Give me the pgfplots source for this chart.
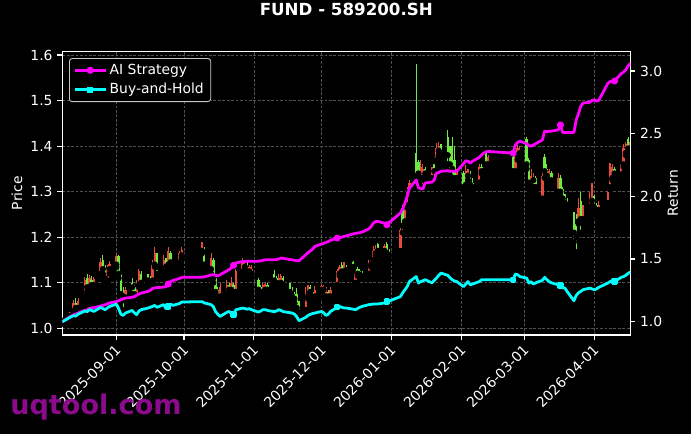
\documentclass[border=0pt]{standalone}
\usepackage{fontspec}
\setmainfont{DejaVu Sans}
\usepackage{pgfplots}
\usepackage{pgfplotstable}
\pgfplotsset{compat=1.18}

\definecolor{cup}{RGB}{230,75,60}
\definecolor{cdown}{RGB}{110,235,65}
\definecolor{gridc}{RGB}{80,80,80}
\definecolor{wm}{RGB}{140,10,140}
\definecolor{legedge}{RGB}{200,200,200}
\definecolor{aicol}{RGB}{255,0,255}
\definecolor{bhcol}{RGB}{0,255,255}

% x = days since 2025-09-01
\pgfplotstableread{
x o h l c
-24 1.015 1.025 1.010 1.020
-21 1.020 1.035 1.018 1.030
-20 1.028 1.040 1.025 1.035
-19 1.038 1.062 1.035 1.055
-17 1.045 1.066 1.042 1.060
-14 1.070 1.112 1.066 1.105
-12 1.090 1.118 1.085 1.110
-10 1.095 1.112 1.090 1.108
-7 1.120 1.155 1.115 1.145
-4 1.105 1.140 1.098 1.130
-3 1.130 1.148 1.120 1.142
0 1.140 1.163 1.134 1.158
4 1.068 1.090 1.060 1.085
9 1.065 1.105 1.050 1.100
10 1.095 1.130 1.090 1.125
16 1.105 1.150 1.100 1.140
17 1.140 1.178 1.135 1.165
21 1.130 1.160 1.120 1.150
23 1.140 1.178 1.135 1.170
28 1.145 1.170 1.140 1.165
29 1.160 1.178 1.155 1.172
38 1.170 1.190 1.165 1.185
42 1.130 1.165 1.120 1.155
46 1.070 1.100 1.065 1.090
49 1.075 1.105 1.068 1.095
51 1.085 1.112 1.080 1.100
53 1.080 1.130 1.078 1.125
56 1.125 1.154 1.122 1.145
57 1.135 1.150 1.125 1.140
59 1.125 1.140 1.118 1.135
60 1.120 1.140 1.115 1.130
65 1.075 1.100 1.070 1.095
66 1.085 1.102 1.080 1.098
72 1.095 1.120 1.090 1.110
73 1.100 1.120 1.092 1.115
84 1.040 1.090 1.035 1.075
85 1.070 1.095 1.065 1.085
88 1.070 1.092 1.065 1.085
91 1.085 1.098 1.082 1.092
92 1.085 1.095 1.070 1.090
93 1.070 1.090 1.066 1.080
95 1.070 1.090 1.066 1.085
98 1.095 1.130 1.090 1.125
99 1.120 1.140 1.115 1.135
101 1.125 1.145 1.120 1.135
106 1.100 1.127 1.098 1.120
112 1.120 1.150 1.118 1.145
113 1.140 1.155 1.135 1.150
114 1.150 1.180 1.145 1.170
115 1.165 1.182 1.160 1.175
119 1.170 1.185 1.168 1.180
126 1.170 1.220 1.165 1.215
128 1.235 1.277 1.230 1.265
129 1.270 1.310 1.265 1.300
130 1.300 1.325 1.290 1.320
135 1.330 1.370 1.325 1.355
136 1.330 1.360 1.310 1.350
140 1.330 1.355 1.320 1.350
142 1.370 1.407 1.365 1.395
143 1.390 1.410 1.380 1.400
151 1.330 1.350 1.320 1.345
155 1.315 1.358 1.310 1.345
156 1.335 1.350 1.325 1.340
161 1.320 1.360 1.315 1.355
163 1.345 1.360 1.340 1.355
165 1.360 1.380 1.355 1.375
177 1.345 1.390 1.340 1.380
178 1.380 1.402 1.370 1.395
179 1.385 1.400 1.375 1.390
184 1.310 1.350 1.300 1.335
185 1.325 1.340 1.310 1.330
189 1.285 1.343 1.277 1.335
192 1.325 1.350 1.320 1.345
196 1.300 1.340 1.292 1.330
205 1.235 1.286 1.230 1.265
207 1.240 1.270 1.235 1.260
210 1.265 1.300 1.255 1.285
211 1.280 1.320 1.270 1.305
214 1.260 1.280 1.255 1.270
218 1.275 1.310 1.270 1.300
219 1.310 1.363 1.305 1.350
220 1.330 1.360 1.325 1.355
224 1.338 1.365 1.335 1.360
225 1.360 1.405 1.355 1.395
226 1.385 1.410 1.380 1.405
228 1.395 1.420 1.390 1.410
}\upcandles

\pgfplotstableread{
x o h l c
-18 1.055 1.066 1.040 1.045
-13 1.110 1.120 1.080 1.090
-11 1.105 1.115 1.090 1.095
-6 1.150 1.160 1.120 1.130
-5 1.130 1.140 1.100 1.110
1 1.158 1.162 1.110 1.120
2 1.120 1.125 1.060 1.075
3 1.078 1.090 1.040 1.070
7 1.100 1.110 1.075 1.090
8 1.090 1.095 1.065 1.075
11 1.120 1.125 1.095 1.100
14 1.115 1.120 1.098 1.105
15 1.110 1.115 1.095 1.100
18 1.160 1.165 1.120 1.135
22 1.150 1.155 1.125 1.135
24 1.165 1.170 1.135 1.145
25 1.145 1.150 1.130 1.140
39 1.175 1.178 1.130 1.140
43 1.150 1.155 1.100 1.110
44 1.110 1.120 1.065 1.080
45 1.085 1.090 1.060 1.070
50 1.095 1.100 1.070 1.085
52 1.095 1.100 1.070 1.078
58 1.140 1.145 1.120 1.125
63 1.105 1.110 1.078 1.085
64 1.090 1.095 1.075 1.080
67 1.095 1.100 1.075 1.085
70 1.120 1.127 1.100 1.105
71 1.110 1.115 1.095 1.100
74 1.110 1.115 1.090 1.095
77 1.095 1.100 1.075 1.080
78 1.085 1.090 1.060 1.070
79 1.075 1.080 1.055 1.065
80 1.075 1.088 1.035 1.045
81 1.050 1.060 1.029 1.035
86 1.090 1.095 1.075 1.080
87 1.080 1.085 1.062 1.070
94 1.080 1.085 1.066 1.070
100 1.140 1.145 1.120 1.125
102 1.135 1.140 1.120 1.128
105 1.145 1.148 1.130 1.135
107 1.130 1.135 1.115 1.120
108 1.125 1.130 1.112 1.118
109 1.120 1.125 1.108 1.115
116 1.185 1.188 1.165 1.170
120 1.185 1.190 1.155 1.165
121 1.170 1.175 1.150 1.160
127 1.265 1.270 1.210 1.225
133 1.385 1.580 1.315 1.335
134 1.365 1.370 1.320 1.340
137 1.350 1.355 1.330 1.340
141 1.360 1.375 1.330 1.345
144 1.400 1.405 1.375 1.385
147 1.420 1.435 1.360 1.380
148 1.390 1.400 1.336 1.360
149 1.400 1.420 1.330 1.350
150 1.370 1.400 1.315 1.330
154 1.340 1.345 1.300 1.310
157 1.340 1.345 1.300 1.315
158 1.320 1.330 1.300 1.310
162 1.355 1.360 1.340 1.345
164 1.375 1.385 1.354 1.360
176 1.375 1.385 1.336 1.345
182 1.415 1.420 1.350 1.360
183 1.370 1.374 1.308 1.320
186 1.330 1.335 1.300 1.310
190 1.375 1.383 1.330 1.345
191 1.350 1.360 1.325 1.335
193 1.340 1.345 1.315 1.325
197 1.330 1.336 1.290 1.300
198 1.305 1.310 1.275 1.285
199 1.290 1.295 1.270 1.275
200 1.280 1.285 1.260 1.270
203 1.250 1.255 1.190 1.210
204 1.230 1.250 1.167 1.200
206 1.280 1.300 1.210 1.240
212 1.290 1.292 1.248 1.265
213 1.270 1.275 1.250 1.260
221 1.350 1.355 1.330 1.340
227 1.415 1.420 1.390 1.395
}\downcandles

\pgfplotstableread{
x ai bh
-24 1.000 1.000
-21 1.035 1.030
-20 1.045 1.040
-19 1.055 1.048
-18 1.060 1.045
-17 1.070 1.060
-14 1.090 1.085
-13 1.095 1.080
-12 1.105 1.096
-11 1.110 1.090
-10 1.112 1.082
-7 1.125 1.114
-6 1.130 1.105
-5 1.135 1.096
-4 1.142 1.110
-3 1.150 1.122
0 1.160 1.140
1 1.168 1.104
2 1.175 1.060
3 1.183 1.050
4 1.188 1.069
7 1.195 1.090
8 1.200 1.070
9 1.212 1.056
10 1.220 1.085
11 1.228 1.096
14 1.242 1.109
15 1.250 1.115
16 1.265 1.122
17 1.270 1.130
18 1.272 1.115
21 1.276 1.136
22 1.280 1.104
23 1.300 1.120
24 1.320 1.141
25 1.328 1.130
28 1.345 1.145
29 1.354 1.157
38 1.355 1.160
39 1.358 1.150
42 1.372 1.136
43 1.375 1.120
44 1.370 1.080
45 1.365 1.060
46 1.375 1.042
49 1.405 1.075
50 1.415 1.082
51 1.430 1.065
52 1.450 1.056
53 1.468 1.095
56 1.480 1.109
57 1.480 1.105
58 1.482 1.100
59 1.482 1.104
60 1.482 1.095
63 1.483 1.077
64 1.485 1.085
65 1.490 1.096
66 1.494 1.096
67 1.494 1.090
70 1.494 1.080
71 1.496 1.085
72 1.500 1.096
73 1.508 1.090
74 1.505 1.080
77 1.496 1.072
78 1.494 1.069
79 1.490 1.060
80 1.487 1.040
81 1.486 1.008
84 1.534 1.035
85 1.550 1.050
86 1.565 1.058
87 1.578 1.065
88 1.600 1.069
91 1.620 1.082
92 1.625 1.070
93 1.632 1.050
94 1.640 1.060
95 1.650 1.082
98 1.667 1.115
99 1.672 1.122
100 1.675 1.115
101 1.680 1.110
102 1.685 1.109
105 1.700 1.100
106 1.705 1.096
107 1.707 1.105
108 1.710 1.115
109 1.715 1.122
112 1.740 1.136
113 1.760 1.138
114 1.785 1.141
115 1.800 1.141
116 1.800 1.141
119 1.785 1.150
120 1.774 1.162
121 1.790 1.165
126 1.867 1.200
127 1.900 1.230
128 1.947 1.255
129 2.000 1.280
130 2.066 1.320
133 2.130 1.360
134 2.070 1.308
135 2.060 1.320
136 2.060 1.327
137 2.106 1.335
140 2.114 1.310
141 2.130 1.330
142 2.186 1.348
143 2.190 1.370
144 2.200 1.388
147 2.204 1.370
148 2.200 1.350
149 2.200 1.335
150 2.200 1.325
151 2.200 1.320
154 2.260 1.280
155 2.284 1.300
156 2.280 1.320
157 2.265 1.295
158 2.280 1.300
161 2.310 1.320
162 2.330 1.335
163 2.345 1.335
164 2.355 1.335
165 2.358 1.335
176 2.345 1.335
177 2.410 1.380
178 2.430 1.375
179 2.440 1.360
182 2.420 1.348
183 2.405 1.308
184 2.400 1.320
185 2.410 1.300
186 2.420 1.310
189 2.450 1.330
190 2.520 1.354
191 2.515 1.335
192 2.520 1.320
193 2.520 1.310
196 2.530 1.295
197 2.570 1.290
198 2.510 1.270
199 2.510 1.268
200 2.510 1.240
203 2.510 1.167
204 2.610 1.210
205 2.660 1.230
206 2.717 1.242
207 2.744 1.255
210 2.750 1.268
211 2.765 1.262
212 2.770 1.255
213 2.760 1.262
214 2.765 1.274
218 2.900 1.308
219 2.916 1.320
220 2.915 1.320
221 2.920 1.320
224 2.980 1.354
225 2.990 1.360
226 3.010 1.370
227 3.040 1.385
228 3.060 1.396
}\linedata

\pgfplotsset{
  base/.style={
    at={(44.86pt,71.28pt)}, anchor=south west,
    scale only axis, width=408.96pt, height=204.26pt,
    xmin=-24, xmax=228,
    axis line style={white, line width=0.8pt},
    tick style={white, line width=0.8pt},
    major tick length=3.5pt,
    tick align=outside,
    ticklabel style={text=white, font=\fontsize{10}{12}\selectfont},
    label style={text=white, font=\fontsize{10}{12}\selectfont},
    /pgf/number format/assume math mode=true,
    yticklabel style={/pgf/number format/.cd, fixed, fixed zerofill, precision=1},
  },
  candle/.style 2 args={only marks, mark=none, forget plot,
    error bars/.cd, y dir=plus, y explicit, error mark=none,
    error bar style={draw=#1, line width=#2}},
}

\begin{document}
\begin{tikzpicture}
\fill[black] (0,0) rectangle (497.52pt,312.48pt);
\useasboundingbox (0,0) rectangle (497.52pt,312.48pt);

\begin{axis}[base,
  ymin=0.9853, ymax=1.6081,
  xtick pos=left, ytick pos=left,
  ytick={1.0,1.1,1.2,1.3,1.4,1.5,1.6},
  xtick={0,30,61,91,122,153,181,212},
  xticklabels={2025-09-01,2025-10-01,2025-11-01,2025-12-01,2026-01-01,2026-02-01,2026-03-01,2026-04-01},
  xticklabel style={rotate=45, anchor=north east, inner sep=1pt, xshift=-2pt},
  grid=major,
  major grid style={gridc, line width=0.5pt, dash pattern=on 2pt off 1.2pt},
  ylabel={Price},
  ylabel style={at={(axis description cs:-0.0798,0.5)}, anchor=center},
  title={FUND - 589200.SH},
  title style={text=white, font=\fontsize{12}{14}\selectfont\bfseries,
    at={(axis description cs:0.5,1.117)}, anchor=center},
]
% wicks
\addplot[candle={cup}{0.8pt}]
  table[x=x, y=l, y error expr=\thisrow{h}-\thisrow{l}] {\upcandles};
\addplot[candle={cdown}{0.8pt}]
  table[x=x, y=l, y error expr=\thisrow{h}-\thisrow{l}] {\downcandles};
% bodies
\addplot[candle={cup}{1.7pt}]
  table[x=x, y=o, y error expr=\thisrow{c}-\thisrow{o}] {\upcandles};
\addplot[candle={cdown}{1.7pt}]
  table[x=x, y=c, y error expr=\thisrow{o}-\thisrow{c}] {\downcandles};
\end{axis}

\begin{axis}[base,
  ymin=0.894, ymax=3.157,
  hide x axis,
  axis y line*=right,
  ytick={1.0,1.5,2.0,2.5,3.0},
  ylabel={Return},
  ylabel style={at={(axis description cs:1.0752,0.5)}, anchor=center},
  legend style={at={(0.0118,0.976)}, anchor=north west, fill=black,
    draw=legedge, rounded corners=2pt, text=white,
    font=\fontsize{10}{12}\selectfont, inner xsep=3pt, inner ysep=2pt,
    row sep=1pt, line width=0.6pt},
  legend cell align=left,
  legend image code/.code={\draw[mark repeat=2,mark phase=2]
    plot coordinates {(0pt,0pt) (11pt,0pt) (22pt,0pt)};},
]
\addlegendimage{aicol, line width=2pt, mark=*, mark size=1.5pt}
\addlegendentry{AI Strategy}
\addlegendimage{bhcol, line width=2pt, mark=square*, mark size=1.3pt}
\addlegendentry{Buy-and-Hold}
\addplot[aicol, line width=2pt, line join=round, forget plot,
  mark=*, mark size=1.5pt, mark indices={34,49,81,97,129,144,161}]
  table[x=x, y=ai] {\linedata};
\addplot[bhcol, line width=2pt, line join=round, forget plot,
  mark=square*, mark size=1.3pt, mark indices={34,49,81,97,129,144,161}]
  table[x=x, y=bh] {\linedata};
\end{axis}

\node[anchor=base west, inner sep=0pt, text=wm,
  font=\fontsize{19.5}{20}\selectfont\bfseries] at (7.2pt,13.7pt) {uqtool.com};
\end{tikzpicture}
\end{document}
